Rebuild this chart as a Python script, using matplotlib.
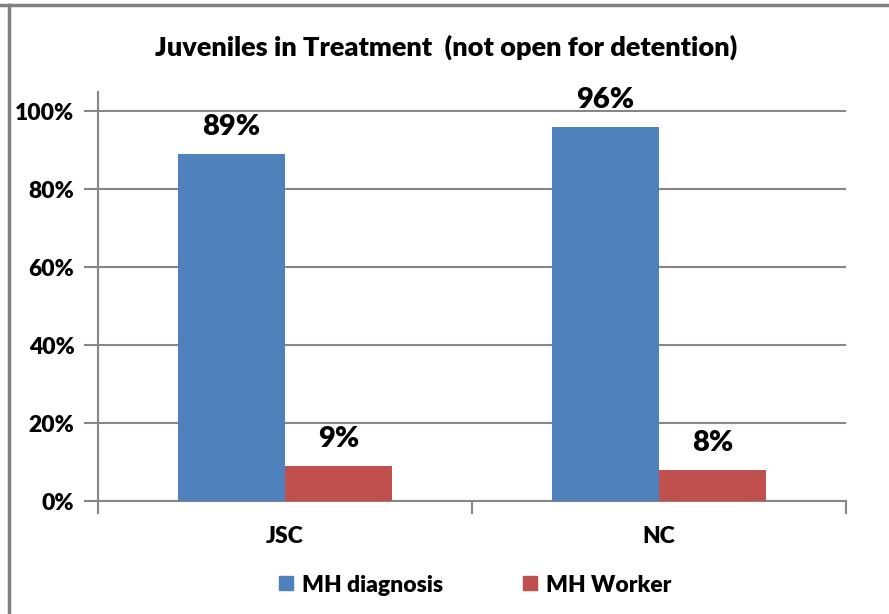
import matplotlib
matplotlib.use("Agg")
import matplotlib.pyplot as plt
from matplotlib.lines import Line2D
import numpy as np

categories = ["JSC", "NC"]
series_names = ["MH diagnosis", "MH Worker"]
mh_diagnosis = [0.89, 0.96]
mh_worker = [0.09, 0.08]
y_ticks = [0.0, 0.2, 0.4, 0.6, 0.8, 1.0]
y_tick_labels = ["0%", "20%", "40%", "60%", "80%", "100%"]

BLUE = "#4F81BD"
RED = "#C0504D"
GRID = "#868686"
WEIGHT = "heavy"

plt.rcParams["font.family"] = ["Lato", "DejaVu Sans"]
plt.rcParams["font.weight"] = WEIGHT

W, H = 889, 614
fig = plt.figure(figsize=(W / 100, H / 100), dpi=100)

# plot area in pixel coordinates
left_px, right_px = 98, 846
bottom_px, top_px = 501, 92
ax = fig.add_axes([left_px / W, (H - bottom_px) / H,
                   (right_px - left_px) / W, (bottom_px - top_px) / H])

x = np.arange(len(categories))
bw = 0.286
bars1 = ax.bar(x - bw / 2, mh_diagnosis, bw, color=BLUE, label=series_names[0], zorder=3)
bars2 = ax.bar(x + bw / 2, mh_worker, bw, color=RED, label=series_names[1], zorder=3)

for bars, vals in ((bars1, mh_diagnosis), (bars2, mh_worker)):
    for b, v in zip(bars, vals):
        ax.annotate(f"{round(v * 100)}%", (b.get_x() + b.get_width() / 2, v),
                    xytext=(0, 14), textcoords="offset pixels",
                    ha="center", va="bottom", fontsize=21, fontweight=WEIGHT,
                    color="black")

ax.set_xlim(-0.5, 1.5)
ax.set_ylim(0, 1.05)
ax.set_yticks(y_ticks)
ax.set_yticklabels(y_tick_labels, fontsize=16.5, fontweight=WEIGHT)
ax.yaxis.grid(True, color=GRID, linewidth=1.5, zorder=0)
ax.set_axisbelow(True)

# category boundaries carry the tick marks, labels sit at the centres
ax.set_xticks([-0.5, 0.5, 1.5])
ax.set_xticklabels([])
ax.set_xticks(x, minor=True)
ax.set_xticklabels(categories, minor=True, fontsize=16.5, fontweight=WEIGHT)
ax.tick_params(axis="x", which="major", length=9, width=1.5, color=GRID, direction="out")
ax.tick_params(axis="x", which="minor", length=0, pad=18)
ax.tick_params(axis="y", length=10, width=1.5, color=GRID, direction="out", pad=7)

for s in ("top", "right"):
    ax.spines[s].set_visible(False)
for s in ("left", "bottom"):
    ax.spines[s].set_color(GRID)
    ax.spines[s].set_linewidth(1.5)

fig.text(446 / W, 1 - 47 / H, "Juveniles in Treatment  (not open for detention)",
         ha="center", va="center", fontsize=19.5, fontweight=WEIGHT)

handles = [Line2D([], [], marker="s", linestyle="none", markersize=10,
                  markerfacecolor=c, markeredgecolor=c) for c in (BLUE, RED)]
fig.legend(handles, series_names, loc="center", bbox_to_anchor=(472 / W, 1 - 585 / H),
           ncol=2, frameon=False, handletextpad=0.1, columnspacing=3.2,
           handlelength=1.2, prop={"weight": WEIGHT, "size": 16.5})

# outer frame: top and left edges
fig.add_artist(Line2D([0, 1], [1 - 5 / H, 1 - 5 / H], transform=fig.transFigure,
                      color="#808080", linewidth=2.5))
fig.add_artist(Line2D([8.5 / W, 8.5 / W], [0, 1 - 5 / H], transform=fig.transFigure,
                      color="#808080", linewidth=2.5))

fig.savefig("out.png", dpi=100, facecolor="white")
